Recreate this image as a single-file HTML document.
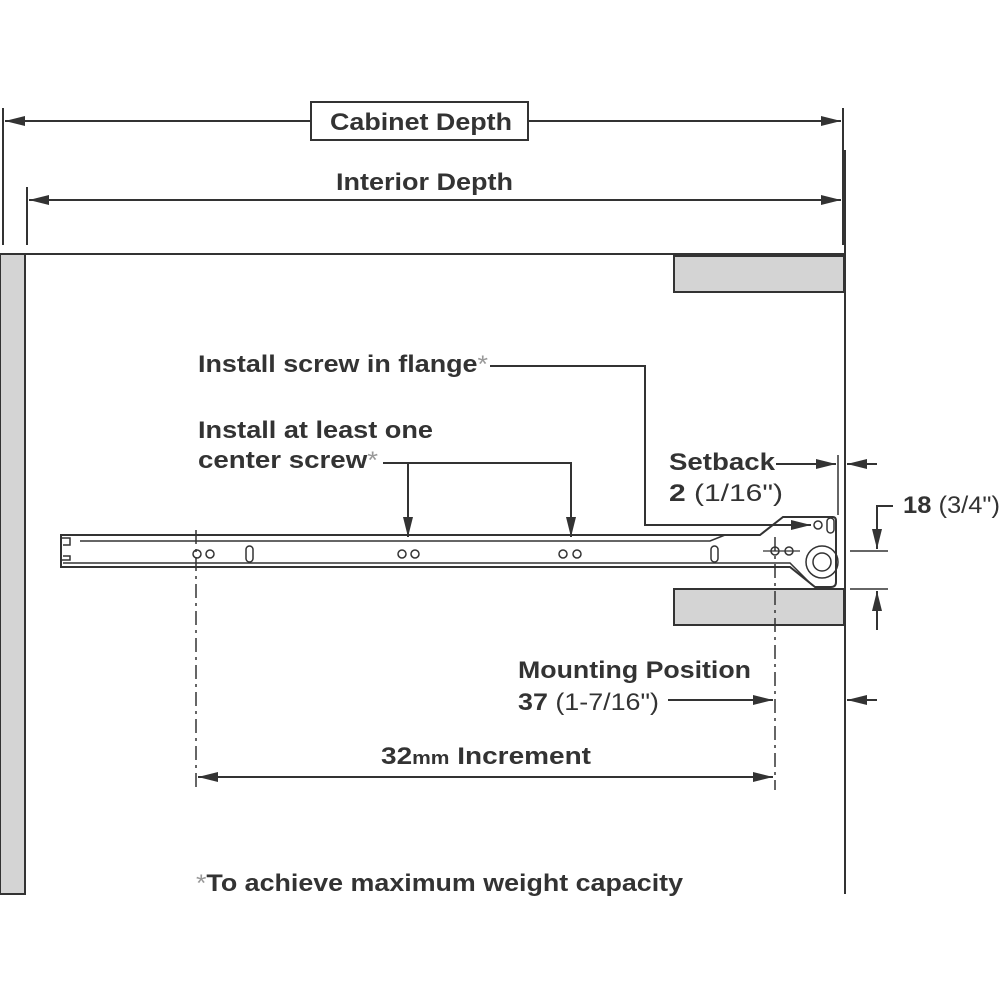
<!DOCTYPE html>
<html><head><meta charset="utf-8"><style>
html,body{margin:0;padding:0;background:#fff}
svg{display:block}
text{font-family:"Liberation Sans",Arial,sans-serif;fill:#333}
.b{font-weight:bold}
</style></head><body>
<svg width="1000" height="1000" viewBox="0 0 1000 1000" xmlns="http://www.w3.org/2000/svg">
<defs>
<marker id="A" viewBox="0 0 20 10" refX="20" refY="5" markerWidth="20" markerHeight="10" markerUnits="userSpaceOnUse" orient="auto-start-reverse"><path d="M0,0 L20,5 L0,10z" fill="#333"/></marker>
</defs>
<g stroke="#333" stroke-width="2" fill="none">
<line x1="3" y1="108" x2="3" y2="245"/>
<line x1="27" y1="187" x2="27" y2="245"/>
<line x1="843" y1="108" x2="843" y2="245"/>
<line x1="5" y1="121" x2="311" y2="121" marker-start="url(#A)"/>
<line x1="528" y1="121" x2="841" y2="121" marker-end="url(#A)"/>
<rect x="311" y="102" width="217" height="38"/>
<line x1="29" y1="200" x2="841" y2="200" marker-start="url(#A)" marker-end="url(#A)"/>
<rect x="0" y="254" width="25" height="640" fill="#d4d4d4"/>
<line x1="25" y1="254" x2="845" y2="254"/>
<line x1="845" y1="150" x2="845" y2="894"/>
<rect x="674" y="256" width="170" height="36" fill="#d4d4d4"/>
<rect x="674" y="589" width="170" height="36" fill="#d4d4d4"/>
<path d="M61,535 L708,535 L760,535 L783,517 L833,517 Q836,517 836,521 L836,582 Q836,587 831,587 L815,587 L790,567 L61,567 Z" stroke-width="2"/>
<path d="M80,541 L710,541 L725,535" stroke-width="1.5"/>
<path d="M63,563 L790,563 L812,585" stroke-width="1.5"/>
<line x1="61" y1="535" x2="61" y2="567"/>
<path d="M61,538 L70,538 L70,545 L63,545 M61,560 L70,560 L70,556 L63,556" stroke-width="1.5"/>
<circle cx="197" cy="554" r="4" stroke-width="1.5"/><circle cx="210" cy="554" r="4" stroke-width="1.5"/>
<circle cx="402" cy="554" r="4" stroke-width="1.5"/><circle cx="415" cy="554" r="4" stroke-width="1.5"/>
<circle cx="563" cy="554" r="4" stroke-width="1.5"/><circle cx="577" cy="554" r="4" stroke-width="1.5"/>
<circle cx="775" cy="551" r="4" stroke-width="1.5"/><circle cx="789" cy="551" r="4" stroke-width="1.5"/>
<rect x="246" y="546" width="7" height="16" rx="3.5" stroke-width="1.5"/>
<rect x="711" y="546" width="7" height="16" rx="3.5" stroke-width="1.5"/>
<circle cx="818" cy="525" r="4" stroke-width="1.5"/>
<rect x="827" y="518" width="7" height="15" rx="3.5" stroke-width="1.5"/>
<circle cx="822" cy="562" r="16" stroke-width="1.5"/>
<circle cx="822" cy="562" r="9" stroke-width="1.5"/>
<line x1="196" y1="530" x2="196" y2="790" stroke-width="1.5" stroke-dasharray="14,5,3,5"/>
<line x1="775" y1="537" x2="775" y2="790" stroke-width="1.5" stroke-dasharray="14,5,3,5"/>
<line x1="763" y1="551" x2="800" y2="551" stroke-width="1.2"/>
<line x1="198" y1="777" x2="773" y2="777" marker-start="url(#A)" marker-end="url(#A)"/>
<line x1="668" y1="700" x2="773" y2="700" marker-end="url(#A)"/>
<line x1="877" y1="700" x2="847" y2="700" marker-end="url(#A)"/>
<line x1="838" y1="455" x2="838" y2="515" stroke-width="1.5"/>
<line x1="776" y1="464" x2="836" y2="464" marker-end="url(#A)"/>
<line x1="877" y1="464" x2="847" y2="464" marker-end="url(#A)"/>
<path d="M893,506 L877,506 L877,549" marker-end="url(#A)"/>
<line x1="850" y1="551" x2="888" y2="551" stroke-width="1.5"/>
<line x1="850" y1="589" x2="888" y2="589" stroke-width="1.5"/>
<line x1="877" y1="630" x2="877" y2="591" marker-end="url(#A)"/>
<path d="M490,366 L645,366 L645,525 L811,525" marker-end="url(#A)"/>
<path d="M383,463 L571,463 L571,537" marker-end="url(#A)"/>
<line x1="408" y1="463" x2="408" y2="537" marker-end="url(#A)"/>
</g>
<text x="330" y="130" class="b" font-size="24" textLength="182" lengthAdjust="spacingAndGlyphs">Cabinet Depth</text>
<text x="336" y="190" class="b" font-size="24" textLength="177" lengthAdjust="spacingAndGlyphs">Interior Depth</text>
<text x="198" y="372" class="b" font-size="24" textLength="290" lengthAdjust="spacingAndGlyphs">Install screw in flange<tspan fill="#999" font-weight="normal">*</tspan></text>
<text x="198" y="438" class="b" font-size="24" textLength="235" lengthAdjust="spacingAndGlyphs">Install at least one</text>
<text x="198" y="468" class="b" font-size="24" textLength="180" lengthAdjust="spacingAndGlyphs">center screw<tspan fill="#999" font-weight="normal">*</tspan></text>
<text x="669" y="470" class="b" font-size="24" textLength="106" lengthAdjust="spacingAndGlyphs">Setback</text>
<text x="669" y="501" font-size="24" textLength="114" lengthAdjust="spacingAndGlyphs"><tspan class="b">2</tspan> (1/16")</text>
<text x="903" y="513" font-size="24" textLength="97" lengthAdjust="spacingAndGlyphs"><tspan class="b">18</tspan> (3/4")</text>
<text x="518" y="678" class="b" font-size="24" textLength="233" lengthAdjust="spacingAndGlyphs">Mounting Position</text>
<text x="518" y="710" font-size="24" textLength="141" lengthAdjust="spacingAndGlyphs"><tspan class="b">37</tspan> (1-7/16")</text>
<text x="381" y="764" class="b" font-size="24" textLength="210" lengthAdjust="spacingAndGlyphs">32<tspan font-size="18">mm</tspan> Increment</text>
<text x="196" y="891" class="b" font-size="24" textLength="487" lengthAdjust="spacingAndGlyphs"><tspan fill="#999" font-weight="normal">*</tspan>To achieve maximum weight capacity</text>
</svg>
</body></html>
